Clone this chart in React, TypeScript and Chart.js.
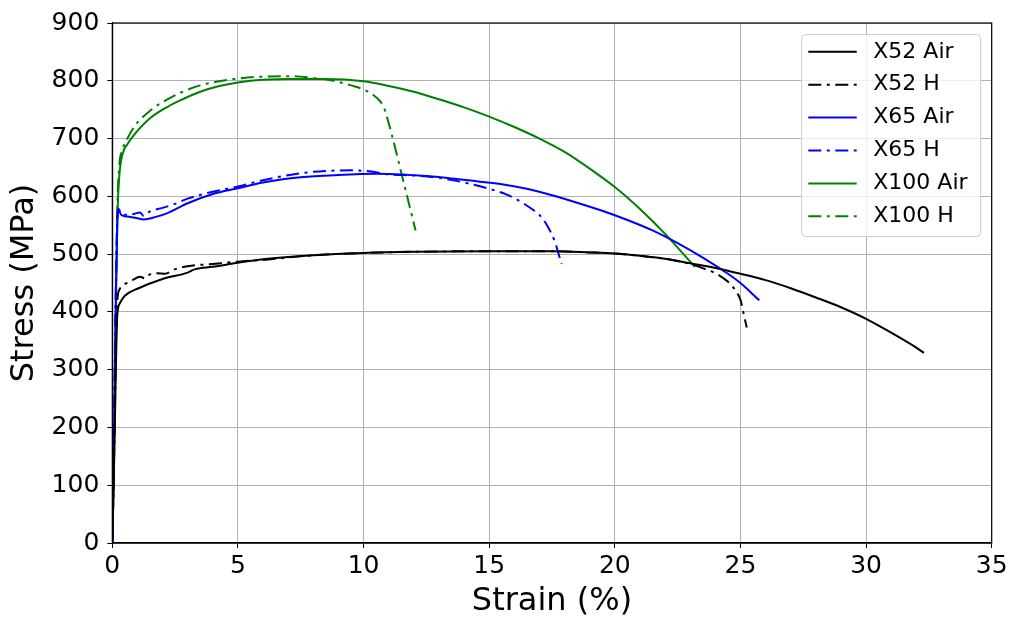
import React, { useEffect, useRef } from 'react';
import { Chart, registerables } from 'chart.js';

Chart.register(...registerables);

const FONT = "'DejaVu Sans', 'Liberation Sans', sans-serif";

// Tick values
const xTickValues = [0, 5, 10, 15, 20, 25, 30, 35];
const yTickValues = [0, 100, 200, 300, 400, 500, 600, 700, 800, 900];

// Series meta
const seriesNames = ['X52 Air', 'X52 H', 'X65 Air', 'X65 H', 'X100 Air', 'X100 H'];
const seriesColors = ['#000000', '#000000', '#0000ff', '#0000ff', '#008000', '#008000'];
const seriesDashed = [false, true, false, true, false, true];

// X52 Air
const x52AirStrain = [0, 0.05, 0.1, 0.15, 0.2, 0.3, 0.5, 1, 2, 3, 3.3, 4, 5, 6, 8, 10, 12, 15, 17.5, 19, 20, 21, 22, 23, 24, 25, 26, 27, 28, 29, 30, 31, 32, 32.3];
const x52AirStress = [0, 90, 200, 320, 395, 415, 428, 440, 457, 468, 474, 478, 485, 491, 498, 502, 504, 505, 505, 503, 501, 497, 492, 484, 476, 466, 455, 441, 425, 408, 388, 364, 338, 329];

// X52 H
const x52HStrain = [0, 0.05, 0.1, 0.15, 0.2, 0.3, 0.5, 0.8, 1.1, 1.3, 1.5, 1.8, 2.1, 2.5, 3, 4, 5, 6, 8, 10, 12, 15, 17.5, 19, 20, 21, 22, 23, 23.6, 24, 24.3, 24.65, 24.85, 25, 25.1, 25.25];
const x52HStress = [0, 100, 220, 350, 420, 440, 448, 455, 461, 458, 465, 467, 466, 474, 479, 483, 487, 490, 498, 502, 504, 505, 505, 503, 501, 497, 492, 483, 474, 467, 459, 446, 434, 421, 402, 373];

// X65 Air
const x65AirStrain = [0, 0.05, 0.1, 0.15, 0.2, 0.25, 0.35, 0.6, 1, 1.25, 1.7, 2.2, 3, 4, 5, 6, 7.5, 9, 10.5, 11.5, 12.5, 13.5, 14.5, 15.5, 16.5, 17.5, 18.5, 19.5, 20.5, 21.5, 22.5, 23.5, 24.5, 25, 25.75];
const x65AirStress = [0, 130, 300, 450, 555, 578, 568, 565, 562, 560, 564, 571, 588, 604, 614, 624, 633, 637, 639, 638, 635, 631, 626, 621, 613, 602, 589, 575, 559, 541, 519, 494, 466, 450, 420];

// X65 H
const x65HStrain = [0, 0.05, 0.1, 0.15, 0.2, 0.25, 0.35, 0.6, 0.9, 1.1, 1.25, 1.5, 2, 2.5, 3, 4, 5, 6, 7.5, 8.5, 9.5, 10.3, 11, 12, 13, 14, 15, 15.7, 16.2, 16.7, 17, 17.3, 17.6, 17.88];
const x65HStress = [0, 140, 320, 470, 560, 578, 570, 568, 570, 572, 566, 574, 580, 587, 596, 608, 617, 628, 640, 644, 645, 643, 638, 636, 632, 624, 613, 603, 592, 578, 568, 550, 523, 483];

// X100 Air
const x100AirStrain = [0, 0.05, 0.1, 0.15, 0.2, 0.27, 0.4, 0.6, 0.9, 1.5, 2.2, 2.8, 3.5, 4.5, 5.5, 7, 8.5, 10, 11, 12, 13, 14, 15, 16, 17, 18, 19, 20, 21, 22, 23.18];
const x100AirStress = [0, 100, 250, 430, 560, 630, 672, 690, 708, 735, 755, 768, 781, 793, 800, 803, 803, 799, 791, 781, 768, 754, 738, 720, 700, 677, 648, 616, 578, 535, 478];

// X100 H
const x100HStrain = [0, 0.05, 0.1, 0.15, 0.2, 0.27, 0.4, 0.6, 0.9, 1.5, 2.2, 2.8, 3.5, 4.5, 5.5, 7, 8, 8.8, 9.5, 10, 10.4, 10.65, 10.8, 11.14, 11.54, 12.07];
const x100HStress = [0, 110, 270, 450, 580, 650, 680, 700, 722, 748, 768, 781, 792, 801, 806, 808, 805, 800, 792, 785, 775, 765, 755, 704, 634, 541];

const seriesStrain = [x52AirStrain, x52HStrain, x65AirStrain, x65HStrain, x100AirStrain, x100HStrain];
const seriesStress = [x52AirStress, x52HStress, x65AirStress, x65HStress, x100AirStress, x100HStress];

const DASH = [13, 5.5, 3, 5.5];

const framePlugin = {
  id: 'frameBox',
  afterDatasetsDraw(chart: any) {
    const { ctx, chartArea } = chart;
    const { left, top, right, bottom } = chartArea;
    ctx.save();
    ctx.strokeStyle = '#000';
    ctx.lineWidth = 1.2;
    ctx.strokeRect(left, top, right - left, bottom - top);
    ctx.restore();
  },
};

const boxLegendPlugin = {
  id: 'boxLegend',
  afterDraw(chart: any) {
    const { ctx, chartArea } = chart;
    const w = 179;
    const h = 202;
    const x0 = chartArea.right - 11 - w;
    const y0 = chartArea.top + 11.5;
    ctx.save();
    ctx.beginPath();
    if (ctx.roundRect) ctx.roundRect(x0, y0, w, h, 4);
    else ctx.rect(x0, y0, w, h);
    ctx.fillStyle = 'rgba(255,255,255,0.8)';
    ctx.fill();
    ctx.strokeStyle = '#cccccc';
    ctx.lineWidth = 1;
    ctx.stroke();
    const rowH = 32.9;
    seriesNames.forEach((name, i) => {
      const cy = y0 + 17.3 + i * rowH;
      ctx.beginPath();
      ctx.setLineDash(seriesDashed[i] ? DASH : []);
      ctx.strokeStyle = seriesColors[i];
      ctx.lineWidth = 2;
      ctx.moveTo(x0 + 6.6, cy);
      ctx.lineTo(x0 + 55, cy);
      ctx.stroke();
      ctx.setLineDash([]);
      ctx.fillStyle = '#000';
      ctx.font = `22px ${FONT}`;
      ctx.textAlign = 'left';
      ctx.textBaseline = 'middle';
      ctx.fillText(name, x0 + 71.6, cy);
    });
    ctx.restore();
  },
};

export default function App() {
  const canvasRef = useRef<HTMLCanvasElement | null>(null);

  useEffect(() => {
    const canvas = canvasRef.current;
    if (!canvas) return;
    const datasets = seriesNames.map((name, i) => ({
      label: name,
      data: seriesStrain[i].map((x, j) => ({ x, y: seriesStress[i][j] })),
      borderColor: seriesColors[i],
      backgroundColor: seriesColors[i],
      borderWidth: 2,
      borderDash: seriesDashed[i] ? DASH : [],
      pointRadius: 0,
      cubicInterpolationMode: 'monotone',
      fill: false,
    }));

    const chart = new Chart(canvas, {
      type: 'line',
      data: { datasets },
      options: {
        responsive: false,
        animation: false,
        events: [],
        layout: { padding: { top: 19.5, right: 19.3, bottom: 0, left: 0 } },
        plugins: {
          legend: { display: false },
          tooltip: { enabled: false },
        },
        scales: {
          x: {
            type: 'linear',
            min: 0,
            max: 35,
            afterBuildTicks: (scale: any) => {
              scale.ticks = xTickValues.map((v) => ({ value: v }));
            },
            afterFit: (scale: any) => {
              scale.height = 78;
            },
            grid: { color: '#b0b0b0', lineWidth: 1, tickColor: '#000', tickLength: 5, tickWidth: 1 },
            border: { color: '#000', width: 1.2 },
            ticks: { color: '#000', font: { size: 25, family: FONT }, padding: 3, maxRotation: 0, autoSkip: false },
            title: {
              display: true,
              text: 'Strain (%)',
              color: '#000',
              font: { size: 32, family: FONT },
              padding: { top: 0, bottom: 0 },
            },
          },
          y: {
            type: 'linear',
            min: 0,
            max: 900,
            afterBuildTicks: (scale: any) => {
              scale.ticks = yTickValues.map((v) => ({ value: v }));
            },
            afterFit: (scale: any) => {
              scale.width = 112.3;
            },
            grid: { color: '#b0b0b0', lineWidth: 1, tickColor: '#000', tickLength: 5, tickWidth: 1 },
            border: { color: '#000', width: 1.2 },
            ticks: { color: '#000', font: { size: 25, family: FONT }, padding: 8, autoSkip: false },
            title: {
              display: true,
              text: 'Stress (MPa)',
              color: '#000',
              font: { size: 32, family: FONT },
              padding: { top: 5, bottom: 0 },
            },
          },
        },
      },
      plugins: [framePlugin, boxLegendPlugin],
    } as any);

    return () => {
      chart.destroy();
    };
  }, []);

  return (
    <div style={{ position: 'absolute', left: 0, top: 0, width: 1011, height: 621, background: '#fff' }}>
      <canvas ref={canvasRef} width={1011} height={621} style={{ width: 1011, height: 621, display: 'block' }} />
    </div>
  );
}
